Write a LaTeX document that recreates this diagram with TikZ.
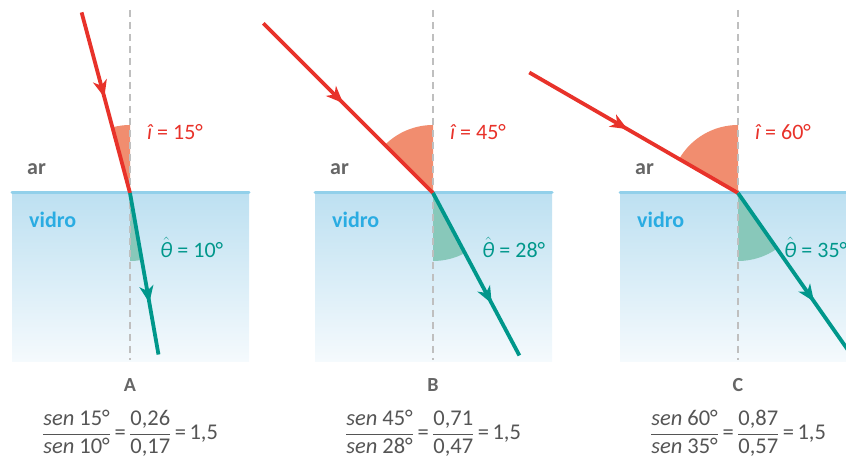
\documentclass[tikz,border=0pt]{standalone}
\usepackage{amsmath}
\usepackage{fontspec}
\setmainfont{Carlito}
\usetikzlibrary{arrows.meta,decorations.markings}
\definecolor{raio}{HTML}{E8322A}
\definecolor{cunhavermelha}{HTML}{F18D6F}
\definecolor{refr}{HTML}{00978B}
\definecolor{cunhaverde}{HTML}{88C8BA}
\definecolor{vidrotopo}{HTML}{BDE0F1}
\definecolor{vidrobase}{HTML}{F5FAFD}
\definecolor{superficie}{HTML}{92D0EA}
\definecolor{textovidro}{HTML}{2AACE2}
\definecolor{cinza}{HTML}{666666}
\definecolor{cinzaeq}{HTML}{555555}
\tikzset{
  vidro/.style={top color=vidrotopo, bottom color=vidrobase, draw=none},
  superf/.style={draw=superficie, line width=3pt, line cap=round},
  normal/.style={draw=black!25, line width=1.8pt, dash pattern=on 7pt off 5pt},
  raioinc/.style={draw=raio, line width=3.8pt, postaction={decorate},
    decoration={markings, mark=at position 0.47 with {\arrow{Stealth[length=17pt,width=14pt,inset=5pt]}}}},
  raioref/.style={draw=refr, line width=3.8pt, postaction={decorate},
    decoration={markings, mark=at position 0.68 with {\arrow{Stealth[length=17pt,width=14pt,inset=5pt]}}}},
  rotulo/.style={font=\fontsize{22}{26}\selectfont, inner sep=0pt, anchor=west},
  meio/.style={font=\fontsize{22}{26}\selectfont\bfseries, inner sep=0pt, anchor=west},
  letra/.style={font=\fontsize{20}{24}\selectfont\bfseries, text=cinza, inner sep=0pt},
  equacao/.style={font=\fontsize{22.5}{27}\selectfont, text=cinzaeq, inner sep=0pt},
}
\newcommand{\tetachapeu}{$\hat{\text{\itshape θ}}$}
% #1 letra, #2 angulo i, #3 angulo theta, #4 raio incidente, #5 raio refratado,
% #6 sen i, #7 sen theta, #8 x do rotulo de theta
\newcommand{\painel}[8]{%
  \shade[vidro] (-118,-169) rectangle (119,0);
  \fill[cunhavermelha] (0,0) -- (90:68) arc[start angle=90, end angle=90+#2, radius=68] -- cycle;
  \fill[cunhaverde] (0,0) -- (270:68) arc[start angle=270, end angle=270+#3, radius=68] -- cycle;
  \draw[normal] (0,183) -- (0,-167);
  \draw[superf] (-118,0) -- (119,0);
  \coordinate (P#1) at (0,0);
  \coordinate (S#1) at (90+#2:#4);
  \coordinate (E#1) at (270+#3:#5);
  \draw[raioinc] (S#1) -- (P#1);
  \draw[raioref] (P#1) -- (E#1);
  \node[rotulo, text=raio] (i#1) at (17,61) {\itshape î\upshape{} = #2°};
  \node[rotulo, text=refr] (t#1) at (#8,-54) {\tetachapeu{} = #3°};
  \node[meio, text=cinza] (ar#1) at (-103,24) {ar};
  \node[meio, text=textovidro] (vd#1) at (-101,-27) {vidro};
  \node[letra] (l#1) at (0,-192) {#1};
  \node[equacao] (eq#1) at (0,-240)
    {$\dfrac{\text{\itshape sen\upshape\ #2°}}{\text{\itshape sen\upshape\ #3°}}
      \,\text{=}\,\dfrac{\text{#6}}{\text{#7}}\,\text{=}\,\text{1,5}$};
}

\begin{document}
\begin{tikzpicture}[x=1pt, y=1pt]
  \useasboundingbox (0,0) rectangle (846,460);
  \begin{scope}[shift={(130,267)}]
    \painel{A}{15}{10}{187}{164}{0,26}{0,17}{30}
  \end{scope}
  \begin{scope}[shift={(433,267)}]
    \painel{B}{45}{28}{240}{184}{0,71}{0,47}{49}
  \end{scope}
  \begin{scope}[shift={(738,267)}]
    \painel{C}{60}{35}{241}{195}{0,87}{0,57}{46}
  \end{scope}
\end{tikzpicture}
\end{document}
